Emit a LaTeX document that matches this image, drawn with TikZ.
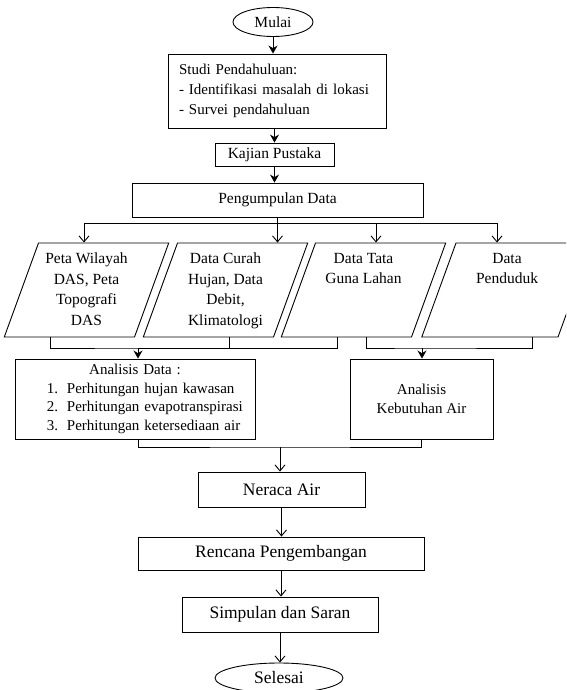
\documentclass[tikz,border=0pt]{standalone}
\usepackage{fontspec}
\setmainfont{Liberation Serif}
\usetikzlibrary{arrows.meta,shapes.geometric}
\newcommand{\upfont}{\fontsize{15.5}{20.5}\selectfont}
\newcommand{\midfont}{\fontsize{15}{18.5}\selectfont}
\newcommand{\lowfont}{\fontsize{17.5}{20}\selectfont}
\begin{document}
\begin{tikzpicture}[x=1pt,y=-1pt,line width=0.9pt,
  every node/.style={font=\upfont,line width=0.9pt},
  box/.style={draw,rectangle,inner sep=0pt,align=center},
  term/.style={draw,ellipse,inner sep=0pt},
  datain/.style={draw,trapezium,trapezium left angle=70,trapezium right angle=110,inner xsep=2pt,inner ysep=10pt},
  arrS/.style={-{Stealth[length=8pt,width=9pt]}},
  arrV/.style={-{Straight Barb[length=6pt,width=10pt]}}]
\useasboundingbox (0,0) rectangle (566,690);
\clip (0,0) rectangle (566,690);
% start and preliminary study
\node[term,minimum width=80,minimum height=29] (mulai) at (273,22) {Mulai};
\node[box,minimum width=218,minimum height=74,text width=196,align=left,font=\fontsize{15}{20}\selectfont] (studi) at (277,91)
  {Studi Pendahuluan:\\- Identifikasi masalah di lokasi\\- Survei pendahuluan};
\node[box,minimum width=119,minimum height=23] (kaj) at (274.5,154.5) {Kajian Pustaka};
\node[box,minimum width=291,minimum height=34] (peng) at (277.5,200) {Pengumpulan Data};
% data inputs
\node[datain] (p1) at (86.5,290) {\parbox[c][74pt][t]{92pt}{\centering Peta Wilayah\\DAS, Peta\\Topografi\\DAS}};
\node[datain] (p2) at (225.5,290) {\parbox[c][74pt][t]{92pt}{\centering Data Curah\\Hujan, Data\\Debit,\\Klimatologi}};
\node[datain] (p3) at (363.5,290) {\parbox[c][74pt][t]{92pt}{\centering Data Tata\\Guna Lahan}};
\node[datain] (p4) at (507,290) {\parbox[c][74pt][t]{98pt}{\centering Data\\Penduduk}};
% analyses
\node[box,minimum width=240,minimum height=80,text width=224,align=left,font=\midfont] (ada) at (135,399)
  {\makebox[224pt]{Analisis Data :}\\
   \hspace*{24pt}\makebox[20pt][l]{1.}Perhitungan hujan kawasan\\
   \hspace*{24pt}\makebox[20pt][l]{2.}Perhitungan evapotranspirasi\\
   \hspace*{24pt}\makebox[20pt][l]{3.}Perhitungan ketersediaan air};
\node[box,minimum width=143,minimum height=80,font=\midfont] (akb) at (421.5,399) {Analisis\\Kebutuhan Air};
% final steps
\node[box,minimum width=167,minimum height=35,font=\lowfont] (ner) at (281.5,489.5) {Neraca Air};
\node[box,minimum width=286,minimum height=33,font=\lowfont] (ren) at (281,553.5) {Rencana Pengembangan};
\node[box,minimum width=196,minimum height=35,font=\lowfont] (sim) at (280,614.5) {Simpulan dan Saran};
\node[term,minimum width=128,minimum height=30,font=\lowfont] (sel) at (279,678) {Selesai};
% connectors
\draw[arrS] (mulai.south) -- (mulai.south |- studi.north);
\draw[arrS] (kaj.north |- studi.south) -- (kaj.north);
\draw[arrS] (kaj.south) -- (kaj.south |- peng.north);
\coordinate (b1) at (84,223);
\coordinate (b3) at (376,223);
\coordinate (b4) at (497,223);
\draw (b1) -- (b4);
\draw[arrV] (b1) -- (b1 |- p1.north);
\draw[arrV] (peng.south) -- (peng.south |- p2.north);
\draw[arrV] (b3) -- (b3 |- p3.north);
\draw[arrV] (b4) -- (b4 |- p4.north);
\coordinate (ml) at (138,348);
\coordinate (mr) at (422,348);
\draw (50,0 |- p1.south) |- (ml) -| (229,0 |- p2.south);
\draw (337,0 |- p3.south) |- (ml);
\draw[arrS] (ml) -- (ml |- ada.north);
\draw (366,0 |- p3.south) |- (mr) -| (532,0 |- p4.south);
\draw[arrS] (mr) -- (mr |- akb.north);
\coordinate (mb) at (280,447);
\draw (138,0 |- ada.south) |- (mb) -| (akb.south);
\draw[arrV] (mb) -- (mb |- ner.north);
\draw[arrV] (ner.south) -- (ner.south |- ren.north);
\draw[arrV] (ren.south) -- (ren.south |- sim.north);
\draw[arrV] (sim.south) -- (sim.south |- sel.north);
\end{tikzpicture}
\end{document}
